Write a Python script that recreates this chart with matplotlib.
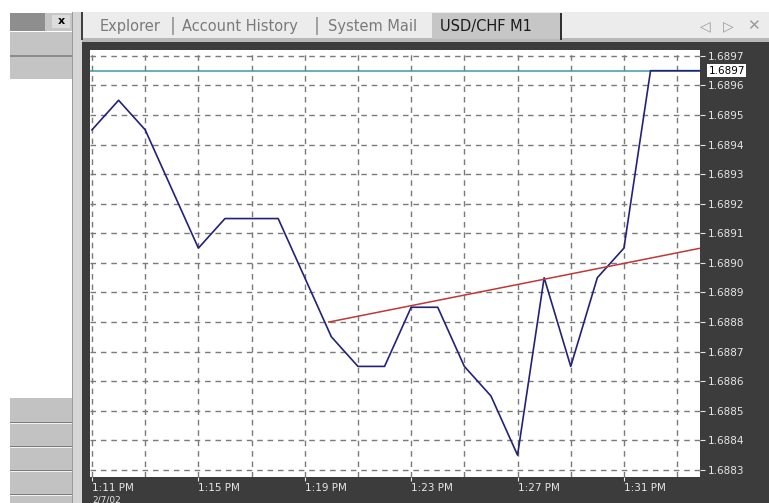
import matplotlib
matplotlib.use('Agg')
import matplotlib.pyplot as plt
from matplotlib.patches import Rectangle

# USD/CHF M1 close prices, one per minute (minute past 1 PM)
bar_minute = [11, 12, 13, 14, 15, 16, 17, 18, 19, 20, 21, 22,
              23, 24, 25, 26, 27, 28, 29, 30, 31, 32, 33, 34]
close = [1.68945, 1.68955, 1.68945, 1.68925, 1.68905, 1.68915, 1.68915, 1.68915,
         1.68895, 1.68875, 1.68865, 1.68865, 1.68885, 1.68885, 1.68865, 1.68855,
         1.68835, 1.68895, 1.68865, 1.68895, 1.68905, 1.68965, 1.68965, 1.68965]

# trend line anchors (minute, price)
trend_minute = [19.9, 34.0]
trend_price = [1.68880, 1.689052]

# current bid line
bid = 1.68965
bid_label = '1.6897'

# axis labels
price_ticks = [1.6883, 1.6884, 1.6885, 1.6886, 1.6887, 1.6888, 1.6889,
               1.6890, 1.6891, 1.6892, 1.6893, 1.6894, 1.6895, 1.6896, 1.6897]
time_ticks = [11, 15, 19, 23, 27, 31]
time_labels = ['1:11 PM', '1:15 PM', '1:19 PM', '1:23 PM', '1:27 PM', '1:31 PM']
grid_minutes = [11, 13, 15, 17, 19, 21, 23, 25, 27, 29, 31, 33]
date_label = '2/7/02'

tabs = ['Explorer', 'Account History', 'System Mail']
tab_x = [100, 182, 328]
sep_x = [170, 314]
active_tab = 'USD/CHF M1'

W, H = 769, 503
fig = plt.figure(figsize=(W / 100, H / 100), dpi=100)
fig.patch.set_facecolor('white')


def box(x0, y0, x1, y1, color, z=-5):
    '''Draws a rectangle given in screen pixels (y going down).'''
    fig.add_artist(Rectangle((x0 / W, 1 - y1 / H), (x1 - x0) / W, (y1 - y0) / H,
                             transform=fig.transFigure, facecolor=color,
                             edgecolor='none', zorder=z))


def label(x, y, s, **kw):
    fig.text(x / W, 1 - y / H, s, **kw)


#Left side panel
box(10, 13, 45, 31, '#8e8e8e')
box(45, 13, 72, 31, '#c6c6c6')
box(52, 15, 70, 28, '#dcdcdc')
label(61, 21.5, 'x', ha='center', va='center', fontsize=8, fontweight='bold', color='black')
box(10, 32, 72, 55, '#c4c4c4')
box(10, 55, 72, 57, '#8c8c8c')
box(10, 57, 72, 79, '#c4c4c4')
box(10, 398, 72, 503, '#c2c2c2')
for yy in [422, 446, 470, 494]:
    box(10, yy, 72, yy + 1, '#7c7c7c')
    box(10, yy + 1, 72, yy + 2, '#f2f2f2')
box(72, 12, 82, 503, '#d6d6d6')
box(72, 12, 73, 503, '#9a9a9a')

#Tab bar
box(82, 12, 769, 40, '#ececec')
box(82, 38, 769, 42, '#b8b8b8')
box(81, 12, 83, 40, '#404040')
box(432, 13, 560, 39, '#c6c6c6')
box(560, 13, 562, 40, '#303030')
for t, x in zip(tabs, tab_x):
    label(x, 27, t, ha='left', va='center', fontsize=10.5, color='#7a7a7a')
for x in sep_x:
    label(x, 26, '|', ha='left', va='center', fontsize=13, color='#8a8a8a')
label(440, 27, active_tab, ha='left', va='center', fontsize=10.5, color='#1a1a1a')
label(705, 26, '◁', ha='center', va='center', fontsize=10, color='#9a9a9a')
label(728, 26, '▷', ha='center', va='center', fontsize=10, color='#9a9a9a')
label(753, 26, '✕', ha='center', va='center', fontsize=11, color='#9a9a9a')

#Dark chart frame
box(82, 42, 769, 503, '#3c3c3c')

#Plot area
ax = fig.add_axes([90 / W, 1 - 477 / H, 610 / W, 427 / H])
ax.set_facecolor('white')
for s in ax.spines.values():
    s.set_visible(False)

ax.set_xlim(10.925, 33.86)
ax.set_ylim(1.688276, 1.689720)

#Dashed grid
for m in grid_minutes:
    ax.axvline(m, color='#7a7a7a', lw=1, linestyle=(0, (4, 3.5)), zorder=1)
for p in price_ticks:
    ax.axhline(p, color='#7a7a7a', lw=1, linestyle=(0, (4, 3.5)), zorder=1)

#Bid line, price line and trend line
ax.axhline(bid, color='#3a9c9c', lw=1.1, zorder=2)
ax.plot(bar_minute, close, color='#22227a', lw=1.2, zorder=3)
ax.plot(trend_minute, trend_price, color='#c03838', lw=1.1, zorder=4)

#Price axis on the right
ax.yaxis.tick_right()
ax.set_yticks(price_ticks)
ax.set_yticklabels(['%.4f' % p for p in price_ticks])
ax.tick_params(axis='y', colors='#e6e6e6', labelsize=7.5, length=3.5, pad=2)

#Time axis, labels start at the tick
ax.set_xticks(time_ticks)
ax.set_xticklabels(time_labels)
ax.tick_params(axis='x', colors='#e6e6e6', labelsize=7.5, length=3, pad=1.5)
for t in ax.get_xticklabels():
    t.set_horizontalalignment('left')
label(92, 495.5, date_label, ha='left', va='top', fontsize=6.5, color='#e6e6e6')

#Current price box
ax.annotate(bid_label, xy=(1.0, bid), xycoords=('axes fraction', 'data'),
            xytext=(6, 0), textcoords='offset points', ha='left', va='center',
            fontsize=7.5, color='black', annotation_clip=False,
            bbox=dict(boxstyle='square,pad=0.15', facecolor='white', edgecolor='none'))

plt.savefig('out.png', dpi=100)
